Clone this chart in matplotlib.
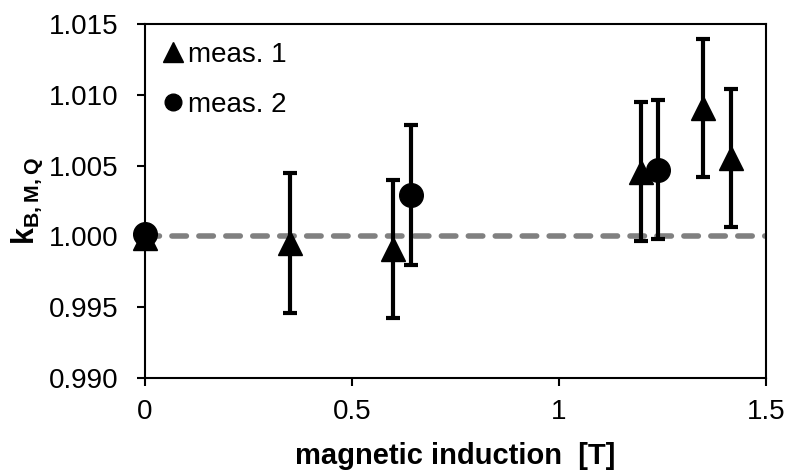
import numpy as np
import matplotlib
matplotlib.use('Agg')
import matplotlib.pyplot as plt
from matplotlib.lines import Line2D

plt.rcParams['font.family'] = ['Liberation Sans', 'DejaVu Sans']
plt.rcParams['mathtext.fontset'] = 'custom'
plt.rcParams['mathtext.rm'] = 'Liberation Sans'
plt.rcParams['mathtext.bf'] = 'Liberation Sans:bold'

# measurement series (B field in T, correction factor, uncertainty)
b_meas1 = [0.0, 0.350, 0.600, 1.197, 1.347, 1.415]
k_meas1 = [0.9999, 0.99953, 0.99913, 1.00458, 1.00906, 1.00553]
err_meas1 = [0.0, 0.00494, 0.00487, 0.00488, 0.00486, 0.00487]

b_meas2 = [0.0, 0.642, 1.240]
k_meas2 = [1.00015, 1.00292, 1.00471]
err_meas2 = [0.0, 0.00495, 0.00492]

ref_level = 1.0
x_ticks = [0, 0.5, 1, 1.5]
x_ticklabels = ['0', '0.5', '1', '1.5']
y_ticks = [0.990, 0.995, 1.000, 1.005, 1.010, 1.015]

fig = plt.figure(figsize=(7.87, 4.73), dpi=100)
ax = fig.add_axes([0.1842, 0.2008, 0.7891, 0.7485])

# reference line at k = 1
ax.plot([0, 1.5], [ref_level, ref_level], color='#808080', lw=4,
        dashes=(2.6, 2.25), dash_capstyle='round', zorder=1)

ebkw = dict(ecolor='k', elinewidth=3, capsize=4.7, capthick=3,
            ls='none', color='k', ms=17, clip_on=False)
ax.errorbar(b_meas1, k_meas1, yerr=err_meas1, marker='^', zorder=3, **ebkw)
ax.errorbar(b_meas2, k_meas2, yerr=err_meas2, marker='o', zorder=4, **ebkw)

ax.set_xlim(0, 1.5)
ax.set_ylim(0.990, 1.015)
ax.set_xticks(x_ticks)
ax.set_xticklabels(x_ticklabels)
ax.set_yticks(y_ticks)
ax.set_yticklabels(['%.3f' % v for v in y_ticks])

for s in ax.spines.values():
    s.set_linewidth(1.5)
ax.tick_params(axis='both', direction='out', length=6, width=1.5,
               labelsize=20)
ax.tick_params(axis='y', pad=13)
ax.tick_params(axis='x', pad=9)

ax.set_xlabel('magnetic induction  [T]', fontsize=21, fontweight='bold',
              labelpad=12)
ax.set_ylabel(r'$\mathbf{k}_{\mathbf{B,M,Q}}$', fontsize=22, labelpad=3)

handles = [Line2D([], [], ls='none', marker='^', color='k', ms=15),
           Line2D([], [], ls='none', marker='o', color='k', ms=12)]
ax.legend(handles, ['meas. 1', 'meas. 2'], loc='upper left',
          bbox_to_anchor=(0.0, 1.0), frameon=False, fontsize=20,
          handlelength=0.7, handletextpad=0.2, labelspacing=0.85,
          borderaxespad=0.35, borderpad=0.3)

fig.savefig('out.png', dpi=100)
